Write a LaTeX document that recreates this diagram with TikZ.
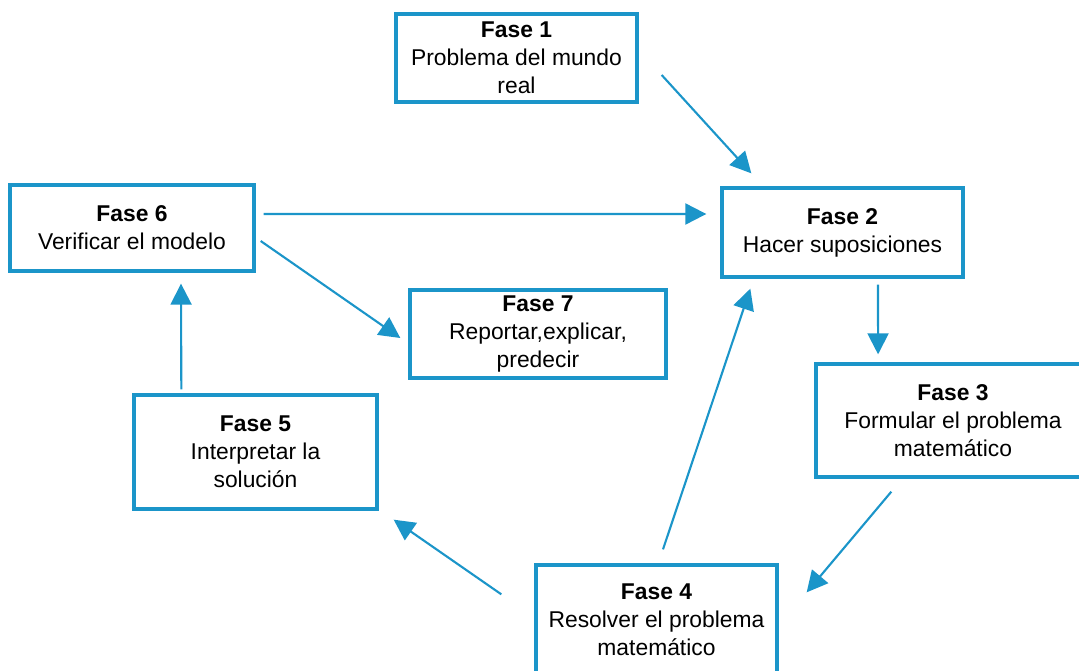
\documentclass[tikz,border=0pt]{standalone}
\usepackage{fontspec}
\setmainfont{Liberation Sans}
\usetikzlibrary{arrows.meta}
\definecolor{faseblue}{RGB}{27,149,201}

\begin{document}
\begin{tikzpicture}[
   fase/.style={draw=faseblue, line width=1.9pt, align=center, inner sep=0pt,
      font=\fontsize{13}{16}\selectfont},
   arr/.style={draw=faseblue, line width=1.2pt,
      -{Triangle[length=0.42cm,width=0.42cm]}}]
   \useasboundingbox (0,0) rectangle (21.58,-13.42);
   \node [fase, minimum width=4.82cm, minimum height=1.76cm] (f1) at (10.33,-1.16)
      {\textbf{Fase 1}\\Problema del mundo\\real};
   \node [fase, minimum width=4.82cm, minimum height=1.78cm] (f2) at (16.85,-4.65)
      {\textbf{Fase 2}\\Hacer suposiciones};
   \node [fase, minimum width=5.48cm, minimum height=2.26cm] (f3) at (19.06,-8.41)
      {\textbf{Fase 3}\\Formular el problema\\matemático};
   \node [fase, minimum width=4.82cm, minimum height=2.2cm] (f4) at (13.13,-12.4)
      {\textbf{Fase 4}\\Resolver el problema\\matemático};
   \node [fase, minimum width=4.86cm, minimum height=2.28cm] (f5) at (5.11,-9.04)
      {\textbf{Fase 5}\\Interpretar la\\solución};
   \node [fase, minimum width=4.88cm, minimum height=1.72cm] (f6) at (2.64,-4.56)
      {\textbf{Fase 6}\\Verificar el modelo};
   \node [fase, minimum width=5.12cm, minimum height=1.76cm] (f7) at (10.76,-6.68)
      {\textbf{Fase 7}\\Reportar,explicar,\\predecir};
   \draw [arr] ([shift={(0.46,-0.34)}]f1.east) -- ([shift={(0.62,0.26)}]f2.north west);
   \draw [arr] ([shift={(0.16,0.28)}]f6.east) -- ([shift={(-0.28,0.37)}]f2.west);
   \draw [arr] ([shift={(0.10,-0.26)}]f6.east) -- ([shift={(-0.16,-0.08)}]f7.west);
   \draw [arr] ([shift={(0.71,-0.12)}]f2.south) -- ([shift={(1.275,0.16)}]f3.north west);
   \draw [arr] ([shift={(1.54,-0.26)}]f3.south west) -- ([shift={(0.56,-0.58)}]f4.north east);
   \draw [arr] ([shift={(-0.66,-0.62)}]f4.north west) -- ([shift={(0.30,-0.18)}]f5.south east);
   \draw [arr] ([shift={(0.13,0.28)}]f4.north) -- ([shift={(0.60,-0.20)}]f2.south west);
   \draw [arr] ([shift={(0.98,0.08)}]f5.north west) -- ([shift={(0.98,-0.22)}]f6.south);
\end{tikzpicture}
\end{document}
